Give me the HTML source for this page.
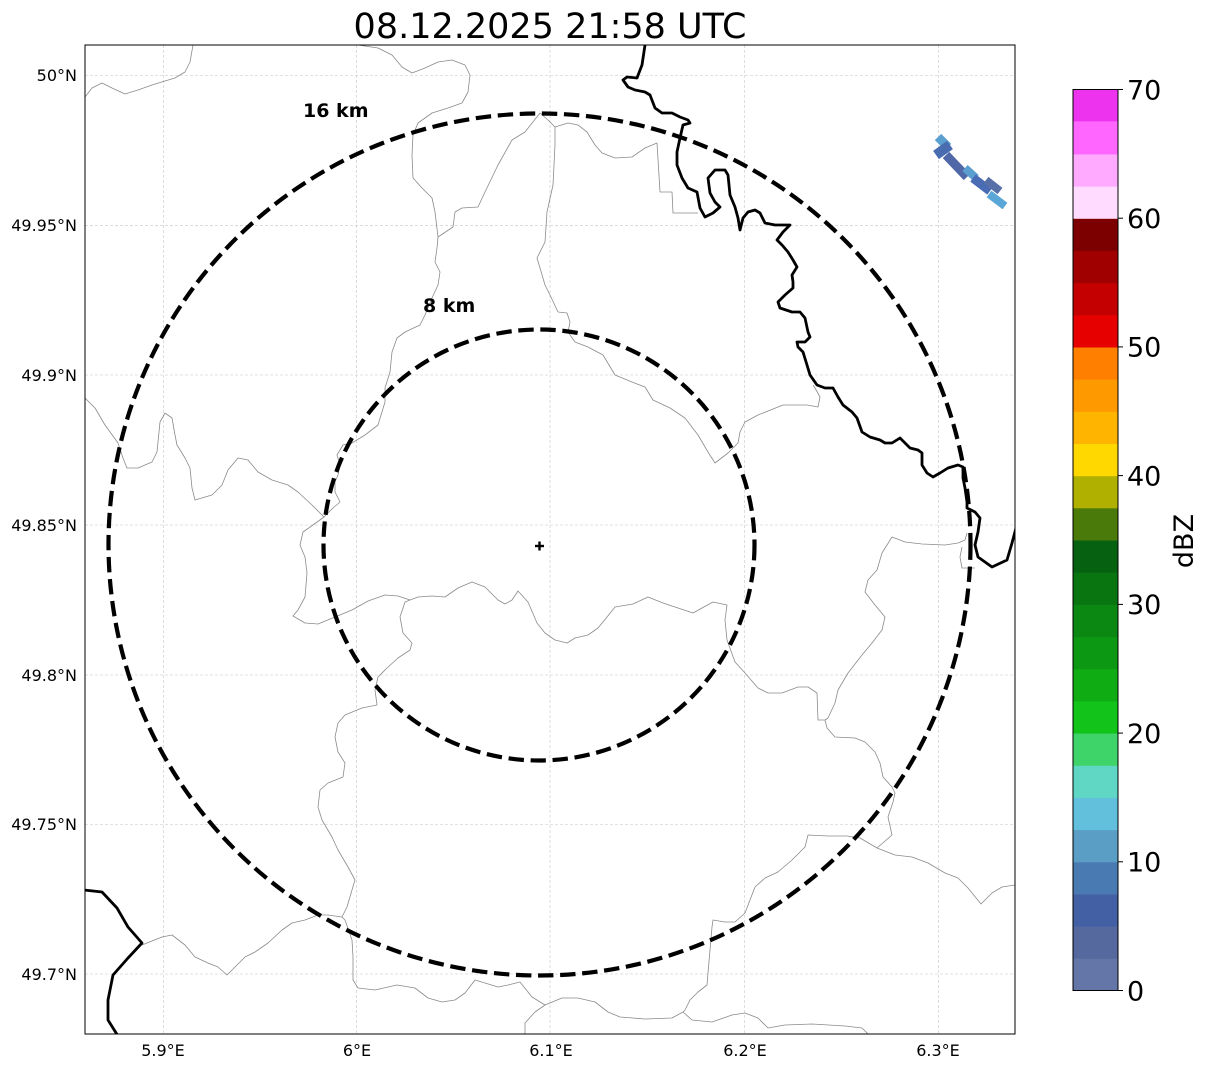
<!DOCTYPE html>
<html><head><meta charset="utf-8"><style>
html,body{margin:0;padding:0;background:#fff;}
svg{display:block;}
text{font-family:"DejaVu Sans","Liberation Sans",sans-serif;}
</style></head><body>
<svg width="1207" height="1069" viewBox="0 0 1207 1069" xmlns="http://www.w3.org/2000/svg">
<defs><clipPath id="c"><rect x="85" y="45" width="930" height="989"/></clipPath></defs>
<rect width="1207" height="1069" fill="#fff"/>
<text x="550" y="38" font-size="35" text-anchor="middle">08.12.2025 21:58 UTC</text>
<g clip-path="url(#c)">
<g stroke="#c6c6c6" stroke-width="0.6" stroke-dasharray="3 2" fill="none">
<line x1="163.3" y1="45" x2="163.3" y2="1034"/><line x1="356.7" y1="45" x2="356.7" y2="1034"/><line x1="550" y1="45" x2="550" y2="1034"/><line x1="744.3" y1="45" x2="744.3" y2="1034"/><line x1="938.3" y1="45" x2="938.3" y2="1034"/>
<line x1="85" y1="75.5" x2="1015" y2="75.5"/><line x1="85" y1="225.3" x2="1015" y2="225.3"/><line x1="85" y1="375" x2="1015" y2="375"/><line x1="85" y1="525" x2="1015" y2="525"/><line x1="85" y1="675" x2="1015" y2="675"/><line x1="85" y1="824.5" x2="1015" y2="824.5"/><line x1="85" y1="974" x2="1015" y2="974"/>
</g>
<g stroke="#8a8a8a" stroke-width="0.8" fill="none" stroke-linejoin="round">
<path d="M85,97 L92,88 L102,83 L112,88 L125,94 L138,90 L152,85 L165,81 L175,78 L185,72 L190,62 L193,45"/>
<path d="M358,45 L378,48 L392,55 L402,67 L412,73 L425,68 L438,62 L452,60 L465,65 L470,75 L468,92 L462,103 L448,108 L432,113 L418,123 L413,135 L412,155 L413,178 L422,188 L432,198 L435,212 L438,237 L437,248 L435,262 L440,272 L438,285 L432,298 L425,315 L420,325 L405,332 L397,338 L392,352 L390,372 L385,388 L385,402 L378,425 L365,435 L352,443 L343,445 L337,455 L340,465 L338,475 L335,482 L335,492 L340,502 L333,508 L324,517"/>
<path d="M85,398 L95,408 L105,425 L118,443 L123,458 L127,468 L138,468 L152,462 L157,452 L160,422 L165,413 L172,418 L175,435 L177,445 L185,458 L190,468 L192,488 L195,500 L212,495 L222,485 L228,470 L238,458 L248,460 L258,472 L272,480 L288,485 L298,492 L312,505 L324,517"/>
<path d="M324,517 L313,525 L303,532 L300,545 L305,557 L307,573 L305,597 L298,610 L293,616 L305,623 L318,624 L335,617 L352,610 L368,601 L385,595 L398,596 L410,600 L418,597 L432,596 L445,597 L458,588 L472,582 L485,587 L498,600 L505,604 L512,600 L518,591 L528,602 L537,623 L545,633 L555,640 L567,643 L575,638 L588,635 L598,628 L607,617 L615,607 L633,604 L648,597 L663,603 L678,608 L693,613 L702,608 L713,602 L727,605 L725,620 L727,640 L735,662 L745,673 L758,688 L768,693 L782,693 L798,687 L808,687 L817,693 L818,720 L825,720"/>
<path d="M410,600 L405,602 L400,617 L403,633 L412,643 L410,650 L398,658 L387,668 L378,677 L375,690 L377,705 L362,708 L345,715 L338,723 L335,737 L338,752 L345,763 L343,777 L328,783 L320,790 L318,807 L322,820 L332,837 L338,850 L348,867 L355,880 L352,890 L347,907 L342,917"/>
<path d="M342,917 L328,915 L318,915 L305,920 L292,923 L282,930 L268,943 L255,952 L245,957 L235,967 L227,975 L218,967 L208,963 L195,957 L185,945 L172,935 L162,937 L142,945"/>
<path d="M342,917 L345,920 L352,940 L353,957 L353,980 L358,988 L375,990 L397,985 L415,988 L428,998 L442,1002 L455,1000 L465,993 L475,980 L485,983 L498,987 L508,985 L520,982 L532,997 L545,1005 L562,998 L578,998 L595,1002 L608,1012 L620,1017 L645,1019 L672,1018 L683,1012"/>
<path d="M545,1005 L535,1012 L525,1023 L525,1036"/>
<path d="M683,1012 L692,1020 L712,1022 L732,1015 L745,1013 L758,1018 L768,1028 L785,1025 L812,1024 L845,1026 L862,1028 L868,1034"/>
<path d="M683,1012 L685,1010 L690,1000 L698,992 L707,985 L708,973 L710,950 L712,927 L713,920 L725,922 L735,922 L745,913 L750,900 L755,887 L765,878 L778,872 L792,860 L805,847 L808,835 L828,836 L847,836 L860,838 L877,848"/>
<path d="M877,848 L892,835 L888,817 L893,802 L895,793 L892,787 L883,777 L880,763 L875,752 L865,742 L855,738 L835,737 L827,728 L825,720"/>
<path d="M825,720 L828,718 L835,703 L838,690 L848,673 L862,655 L872,643 L882,630 L885,617 L875,605 L865,592 L868,580 L877,570 L882,553 L892,537 L905,542 L922,544 L945,545 L958,543 L965,540 L967,533"/>
<path d="M877,848 L895,855 L912,857 L928,863 L945,873 L958,878 L968,888 L981,904 L992,893 L1002,887 L1015,885"/>
<path d="M962,547 L960,557 L962,568 L975,568"/>
<path d="M540,113 L548,120 L555,127 L568,123 L578,125 L587,132 L595,145 L602,153 L615,158 L632,157 L645,148 L657,143 L660,192 L672,192 L673,213 L698,213"/>
<path d="M540,113 L525,132 L512,140 L498,165 L485,192 L478,207 L462,208 L455,212 L453,227 L438,237"/>
<path d="M555,127 L555,145 L553,185 L547,212 L545,242 L537,258 L540,268 L545,285 L550,295 L558,312 L567,313 L570,322 L568,332 L575,342 L588,347 L603,355 L615,375 L632,382 L645,387 L653,400 L670,408 L685,418 L698,435 L708,452 L715,463 L728,453 L738,443 L740,432 L745,422 L758,415 L783,405 L807,405 L818,407 L820,397 L815,388 L813,385"/>
</g>
<g stroke="#000" stroke-width="2.8" fill="none" stroke-linejoin="round">
<path d="M645,45 L642,65 L637,78 L627,77 L623,80 L628,87 L635,90 L645,92 L650,95 L655,108 L662,113 L672,113 L680,117 L688,120 L690,123 L683,125 L680,138 L677,152 L677,165 L682,178 L688,188 L697,192 L700,208 L705,217 L713,213 L720,207 L715,202 L710,193 L708,178 L715,170 L725,170 L728,175 L730,195 L735,207 L738,218 L740,230 L743,218 L748,212 L755,210 L760,213 L765,223 L775,225 L790,225 L783,232 L777,240 L782,245 L788,252 L793,260 L797,267 L792,275 L793,282 L793,288 L785,295 L778,302 L780,308 L792,312 L800,312 L805,318 L808,332 L810,337 L805,342 L797,342 L798,347 L803,352 L807,365 L810,375 L817,385 L825,388 L833,388 L838,397 L843,405 L852,412 L857,418 L862,432 L870,437 L880,440 L885,443 L892,443 L900,438 L905,443 L910,448 L918,450 L922,453 L922,465 L927,473 L933,477 L940,473 L948,468 L958,465 L963,467 L963,478 L965,488 L967,502 L967,508 L975,512 L980,518 L978,532 L975,545 L978,557 L992,567 L1007,560 L1012,543 L1016,528"/>
<path d="M84,890 L102,892 L117,908 L128,927 L142,943 L128,958 L113,975 L108,1000 L108,1020 L118,1036"/>
</g>
<g fill="none" stroke-linecap="butt">
<line x1="938" y1="137" x2="948" y2="147" stroke="#5b9fd0" stroke-width="9"/>
<line x1="936" y1="155" x2="950" y2="145" stroke="#4a6cb0" stroke-width="10"/>
<line x1="946" y1="155" x2="967" y2="177" stroke="#5068a8" stroke-width="9"/>
<line x1="965" y1="168" x2="976" y2="178" stroke="#5a9ed0" stroke-width="8"/>
<line x1="973" y1="178" x2="990" y2="191" stroke="#4a6cb4" stroke-width="9"/>
<line x1="986" y1="180" x2="1000" y2="191" stroke="#5870a8" stroke-width="8"/>
<line x1="989" y1="194" x2="1005" y2="206" stroke="#5aa6d6" stroke-width="8"/>
</g>
<g fill="none" stroke="#000" stroke-width="4.2" stroke-dasharray="15.4 6.7">
<circle cx="539.5" cy="544.5" r="431"/>
<circle cx="539" cy="545" r="215.5"/>
</g>
<g stroke="#000" stroke-width="2.4">
<line x1="535" y1="546" x2="544" y2="546"/><line x1="539.5" y1="541.5" x2="539.5" y2="550.5"/>
</g>
<text x="303" y="117" font-size="19" font-weight="bold">16 km</text>
<text x="423" y="312" font-size="19" font-weight="bold">8 km</text>
</g>
<rect x="85" y="45" width="930" height="989" fill="none" stroke="#000" stroke-width="1"/>
<g font-size="16" text-anchor="end">
<text x="77" y="81">50°N</text>
<text x="77" y="231">49.95°N</text>
<text x="77" y="381">49.9°N</text>
<text x="77" y="531">49.85°N</text>
<text x="77" y="681">49.8°N</text>
<text x="77" y="830">49.75°N</text>
<text x="77" y="980">49.7°N</text>
</g>
<g font-size="16" text-anchor="middle">
<text x="163" y="1056">5.9°E</text>
<text x="357" y="1056">6°E</text>
<text x="551" y="1056">6.1°E</text>
<text x="745" y="1056">6.2°E</text>
<text x="938" y="1056">6.3°E</text>
</g>
<g>
<rect x="1073" y="958.3" width="45" height="32.7" fill="#6476a8"/>
<rect x="1073" y="926.1" width="45" height="32.7" fill="#55699f"/>
<rect x="1073" y="893.9" width="45" height="32.7" fill="#4460a4"/>
<rect x="1073" y="861.8" width="45" height="32.7" fill="#4a7ab2"/>
<rect x="1073" y="829.6" width="45" height="32.7" fill="#5a9ec6"/>
<rect x="1073" y="797.4" width="45" height="32.7" fill="#62c0dc"/>
<rect x="1073" y="765.2" width="45" height="32.7" fill="#60d6c4"/>
<rect x="1073" y="733.1" width="45" height="32.7" fill="#3ed46a"/>
<rect x="1073" y="700.9" width="45" height="32.7" fill="#12c41a"/>
<rect x="1073" y="668.7" width="45" height="32.7" fill="#10ac14"/>
<rect x="1073" y="636.5" width="45" height="32.7" fill="#0c9812"/>
<rect x="1073" y="604.4" width="45" height="32.7" fill="#0a8812"/>
<rect x="1073" y="572.2" width="45" height="32.7" fill="#087510"/>
<rect x="1073" y="540.0" width="45" height="32.7" fill="#066210"/>
<rect x="1073" y="507.8" width="45" height="32.7" fill="#4a7a0a"/>
<rect x="1073" y="475.6" width="45" height="32.7" fill="#b0b000"/>
<rect x="1073" y="443.5" width="45" height="32.7" fill="#ffd800"/>
<rect x="1073" y="411.3" width="45" height="32.7" fill="#ffb400"/>
<rect x="1073" y="379.1" width="45" height="32.7" fill="#ff9900"/>
<rect x="1073" y="346.9" width="45" height="32.7" fill="#ff7f00"/>
<rect x="1073" y="314.8" width="45" height="32.7" fill="#e60000"/>
<rect x="1073" y="282.6" width="45" height="32.7" fill="#c40000"/>
<rect x="1073" y="250.4" width="45" height="32.7" fill="#a00000"/>
<rect x="1073" y="218.2" width="45" height="32.7" fill="#7c0000"/>
<rect x="1073" y="186.1" width="45" height="32.7" fill="#ffdcff"/>
<rect x="1073" y="153.9" width="45" height="32.7" fill="#ffaaff"/>
<rect x="1073" y="121.7" width="45" height="32.7" fill="#ff66ff"/>
<rect x="1073" y="89.5" width="45" height="32.2" fill="#ee33ee"/>
<rect x="1073" y="89.5" width="45" height="901" fill="none" stroke="#000" stroke-width="1"/>
</g>
<g stroke="#000" stroke-width="1">
<line x1="1118" y1="89.5" x2="1123" y2="89.5"/><line x1="1118" y1="218.2" x2="1123" y2="218.2"/><line x1="1118" y1="346.9" x2="1123" y2="346.9"/><line x1="1118" y1="475.6" x2="1123" y2="475.6"/><line x1="1118" y1="604.4" x2="1123" y2="604.4"/><line x1="1118" y1="733.1" x2="1123" y2="733.1"/><line x1="1118" y1="861.8" x2="1123" y2="861.8"/><line x1="1118" y1="990.5" x2="1123" y2="990.5"/>
</g>
<g font-size="27">
<text x="1127" y="99.3">70</text>
<text x="1127" y="228">60</text>
<text x="1127" y="356.7">50</text>
<text x="1127" y="485.4">40</text>
<text x="1127" y="614.2">30</text>
<text x="1127" y="742.9">20</text>
<text x="1127" y="871.6">10</text>
<text x="1127" y="1000.3">0</text>
</g>
<text x="0" y="0" font-size="27" text-anchor="middle" transform="translate(1193,541) rotate(-90)">dBZ</text>
</svg>
</body></html>
